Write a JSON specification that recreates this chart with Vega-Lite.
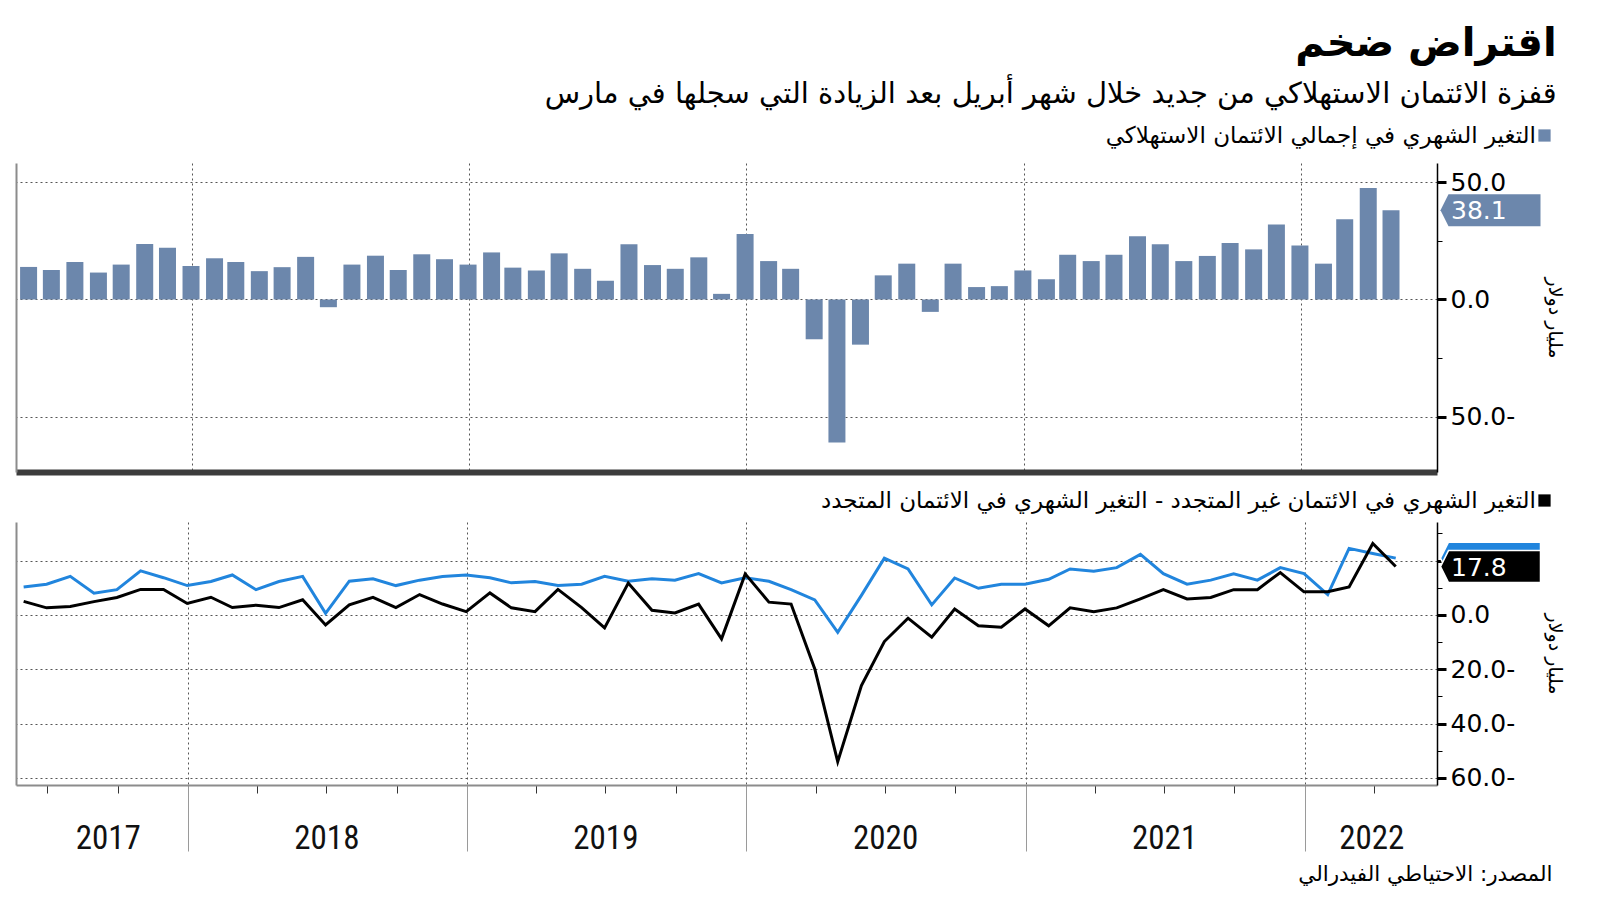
{
  "$schema": "https://vega.github.io/schema/vega-lite/v6.json",
  "padding": {"left": 16, "top": 24, "right": 24, "bottom": 0},
  "background": "#ffffff",
  "datasets": {
    "monthly": [
      {"date": "2017-05-31", "total": 13.9, "nonrev": 10.3, "rev": 5.0},
      {"date": "2017-06-30", "total": 12.6, "nonrev": 11.3, "rev": 2.6},
      {"date": "2017-07-31", "total": 16.0, "nonrev": 14.2, "rev": 3.1},
      {"date": "2017-08-31", "total": 11.5, "nonrev": 8.0, "rev": 4.9},
      {"date": "2017-09-30", "total": 14.9, "nonrev": 9.3, "rev": 6.4},
      {"date": "2017-10-31", "total": 23.7, "nonrev": 16.2, "rev": 9.4},
      {"date": "2017-11-30", "total": 22.1, "nonrev": 13.7, "rev": 9.4},
      {"date": "2017-12-31", "total": 14.3, "nonrev": 10.8, "rev": 4.2},
      {"date": "2018-01-31", "total": 17.6, "nonrev": 12.3, "rev": 6.5},
      {"date": "2018-02-28", "total": 16.0, "nonrev": 14.7, "rev": 2.7},
      {"date": "2018-03-31", "total": 12.1, "nonrev": 9.3, "rev": 3.6},
      {"date": "2018-04-30", "total": 13.8, "nonrev": 12.3, "rev": 2.7},
      {"date": "2018-05-31", "total": 18.2, "nonrev": 14.2, "rev": 5.6},
      {"date": "2018-06-30", "total": -3.3, "nonrev": 0.6, "rev": -3.7},
      {"date": "2018-07-31", "total": 14.9, "nonrev": 12.4, "rev": 3.7},
      {"date": "2018-08-31", "total": 18.7, "nonrev": 13.3, "rev": 6.5},
      {"date": "2018-09-30", "total": 12.6, "nonrev": 10.8, "rev": 2.7},
      {"date": "2018-10-31", "total": 19.3, "nonrev": 12.8, "rev": 7.5},
      {"date": "2018-11-30", "total": 17.2, "nonrev": 14.1, "rev": 4.0},
      {"date": "2018-12-31", "total": 14.9, "nonrev": 14.7, "rev": 1.2},
      {"date": "2019-01-31", "total": 20.1, "nonrev": 13.7, "rev": 8.1},
      {"date": "2019-02-28", "total": 13.6, "nonrev": 11.8, "rev": 2.6},
      {"date": "2019-03-31", "total": 12.4, "nonrev": 12.3, "rev": 1.2},
      {"date": "2019-04-30", "total": 19.7, "nonrev": 10.8, "rev": 9.4},
      {"date": "2019-05-31", "total": 13.1, "nonrev": 11.3, "rev": 2.7},
      {"date": "2019-06-30", "total": 8.0, "nonrev": 14.2, "rev": -4.8},
      {"date": "2019-07-31", "total": 23.6, "nonrev": 12.4, "rev": 11.7},
      {"date": "2019-08-31", "total": 14.7, "nonrev": 13.3, "rev": 1.7},
      {"date": "2019-09-30", "total": 13.1, "nonrev": 12.8, "rev": 0.7},
      {"date": "2019-10-31", "total": 18.0, "nonrev": 15.2, "rev": 4.0},
      {"date": "2019-11-30", "total": 2.4, "nonrev": 11.8, "rev": -8.8},
      {"date": "2019-12-31", "total": 28.0, "nonrev": 13.7, "rev": 15.1},
      {"date": "2020-01-31", "total": 16.4, "nonrev": 12.4, "rev": 4.7},
      {"date": "2020-02-29", "total": 13.1, "nonrev": 9.3, "rev": 4.0},
      {"date": "2020-03-31", "total": -17.0, "nonrev": 5.5, "rev": -19.9},
      {"date": "2020-04-30", "total": -61.1, "nonrev": -6.4, "rev": -54.0},
      {"date": "2020-05-31", "total": -19.3, "nonrev": 7.2, "rev": -26.0},
      {"date": "2020-06-30", "total": 10.3, "nonrev": 20.9, "rev": -9.8},
      {"date": "2020-07-31", "total": 15.3, "nonrev": 16.9, "rev": -1.2},
      {"date": "2020-08-31", "total": -5.3, "nonrev": 3.7, "rev": -8.2},
      {"date": "2020-09-30", "total": 15.3, "nonrev": 13.6, "rev": 2.2},
      {"date": "2020-10-31", "total": 5.3, "nonrev": 9.8, "rev": -4.0},
      {"date": "2020-11-30", "total": 5.7, "nonrev": 11.3, "rev": -4.5},
      {"date": "2020-12-31", "total": 12.4, "nonrev": 11.3, "rev": 2.2},
      {"date": "2021-01-31", "total": 8.6, "nonrev": 13.1, "rev": -4.0},
      {"date": "2021-02-28", "total": 19.1, "nonrev": 16.9, "rev": 2.6},
      {"date": "2021-03-31", "total": 16.4, "nonrev": 16.1, "rev": 1.2},
      {"date": "2021-04-30", "total": 19.1, "nonrev": 17.4, "rev": 2.6},
      {"date": "2021-05-31", "total": 27.0, "nonrev": 22.3, "rev": 5.9},
      {"date": "2021-06-30", "total": 23.6, "nonrev": 15.2, "rev": 9.3},
      {"date": "2021-07-31", "total": 16.4, "nonrev": 11.3, "rev": 5.9},
      {"date": "2021-08-31", "total": 18.6, "nonrev": 12.8, "rev": 6.4},
      {"date": "2021-09-30", "total": 24.1, "nonrev": 15.1, "rev": 9.3},
      {"date": "2021-10-31", "total": 21.4, "nonrev": 12.8, "rev": 9.3},
      {"date": "2021-11-30", "total": 32.0, "nonrev": 17.4, "rev": 15.6},
      {"date": "2021-12-31", "total": 23.1, "nonrev": 15.2, "rev": 8.5},
      {"date": "2022-01-31", "total": 15.3, "nonrev": 7.5, "rev": 8.5},
      {"date": "2022-02-28", "total": 34.3, "nonrev": 24.5, "rev": 10.3},
      {"date": "2022-03-31", "total": 47.6, "nonrev": 22.6, "rev": 26.3},
      {"date": "2022-04-30", "total": 38.1, "nonrev": 20.9, "rev": 17.8}
    ]
  },
  "title": {
    "text": "اقتراض ضخم",
    "subtitle": "قفزة الائتمان الاستهلاكي من جديد خلال شهر أبريل بعد الزيادة التي سجلها في مارس",
    "anchor": "end",
    "frame": "bounds",
    "font": "DejaVu Sans",
    "fontSize": 40,
    "fontWeight": "bold",
    "color": "#000000",
    "subtitleFont": "DejaVu Sans",
    "subtitleFontSize": 29,
    "subtitleColor": "#000000",
    "subtitlePadding": 16,
    "offset": 15,
    "dx": -7
  },
  "config": {
    "view": {"stroke": null},
    "font": "DejaVu Sans"
  },
  "spacing": 17,
  "resolve": {"scale": {"color": "independent"}, "legend": {"color": "independent"}},
  "vconcat": [
    {
      "width": 1421,
      "height": 309,
      "data": {"name": "monthly"},
      "resolve": {"axis": {"y": "independent"}},
      "layer": [
        {
          "mark": {"type": "bar", "size": 17},
          "encoding": {
            "x": {
              "field": "date", "type": "temporal",
              "scale": {"domain": [{"year": 2017, "month": 5, "date": 21}, {"year": 2022, "month": 6, "date": 23}]},
              "axis": {
                "orient": "bottom",
                "values": [{"year": 2018, "month": 1, "date": 1}, {"year": 2019, "month": 1, "date": 1}, {"year": 2020, "month": 1, "date": 1}, {"year": 2021, "month": 1, "date": 1}, {"year": 2022, "month": 1, "date": 1}],
                "grid": true, "gridDash": [2, 3], "gridColor": "#555555", "gridWidth": 1,
                "ticks": false, "labels": false,
                "domain": true, "domainColor": "#3c3c3c", "domainWidth": 6, "domainCap": "butt",
                "title": null
              }
            },
            "y": {
              "field": "total", "type": "quantitative",
              "scale": {"domain": [-73.7, 58.3], "nice": false, "zero": false},
              "axis": {"orient": "left", "labels": false, "ticks": false, "grid": false, "domainColor": "#8c8c8c", "domainWidth": 2, "title": null}
            },
            "color": {
              "datum": "التغير الشهري في إجمالي الائتمان الاستهلاكي",
              "scale": {"range": ["#6c87ac"]},
              "legend": {
                "orient": "none", "legendX": 1517, "legendY": -39,
                "title": null, "symbolType": "square", "symbolSize": 150, "symbolStrokeWidth": 0,
                "labelAlign": "right", "labelOffset": -20, "labelFontSize": 23, "labelFont": "DejaVu Sans",
                "labelColor": "#000000", "labelLimit": 0
              }
            }
          }
        },
        {
          "transform": [
            {"window": [{"op": "row_number", "as": "r"}], "sort": [{"field": "date", "order": "descending"}]},
            {"filter": "datum.r == 1"}
          ],
          "mark": {"type": "point", "shape": "M -1 0 L -0.84 -0.32 L 1 -0.32 L 1 0.32 L -0.84 0.32 Z", "size": 10000, "filled": true, "fill": "#6c87ac", "opacity": 1, "strokeWidth": 0, "xOffset": 53.5},
          "encoding": {
            "x": {"value": "width"},
            "y": {
              "field": "total", "type": "quantitative",
              "axis": {
                "orient": "right",
                "values": [50, 25, 0, -25, -50],
                "labelExpr": "datum.value % 50 != 0 ? '' : (datum.value < 0 ? format(-datum.value, '.1f') + '-' : format(datum.value, '.1f'))",
                "grid": true, "gridDash": [2, 3], "gridColor": "#555555", "gridWidth": 1,
                "gridOpacity": {"condition": {"test": "datum.value % 50 != 0", "value": 0}, "value": 1},
                "tickSize": {"condition": {"test": "datum.value % 50 != 0", "value": 5}, "value": 9},
                "tickWidth": {"condition": {"test": "datum.value % 50 != 0", "value": 1}, "value": 3},
                "tickColor": "#000000",
                "domainColor": "#000000", "domainWidth": 1.5,
                "labelFont": "DejaVu Sans", "labelFontSize": 25, "labelColor": "#000000", "labelPadding": 4,
                "title": "مليار دولار", "titleFont": "DejaVu Sans", "titleFontSize": 19, "titleFontWeight": "normal",
                "titleColor": "#000000", "titleAngle": 90, "titlePadding": 30
              }
            }
          }
        },
        {
          "transform": [
            {"window": [{"op": "row_number", "as": "r"}], "sort": [{"field": "date", "order": "descending"}]},
            {"filter": "datum.r == 1"}
          ],
          "mark": {"type": "text", "align": "left", "baseline": "middle", "font": "DejaVu Sans", "fontSize": 25, "color": "#ffffff", "xOffset": 14, "yOffset": 1},
          "encoding": {
            "x": {"value": "width"},
            "y": {"field": "total", "type": "quantitative", "axis": null},
            "text": {"field": "total", "type": "quantitative", "format": ".1f"}
          }
        }
      ]
    },
    {
      "width": 1421,
      "height": 263,
      "data": {"name": "monthly"},
      "resolve": {"axis": {"y": "independent"}},
      "layer": [
        {
          "mark": {"type": "line", "color": "#2185dd", "strokeWidth": 3},
          "encoding": {
            "x": {
              "field": "date", "type": "temporal",
              "scale": {"domain": [{"year": 2017, "month": 5, "date": 21}, {"year": 2022, "month": 6, "date": 23}]},
              "axis": {
                "orient": "bottom",
                "values": [
                  {"year": 2017, "month": 7, "date": 1}, {"year": 2017, "month": 9, "date": 18}, {"year": 2017, "month": 10, "date": 1},
                  {"year": 2018, "month": 1, "date": 1}, {"year": 2018, "month": 4, "date": 1}, {"year": 2018, "month": 7, "date": 1}, {"year": 2018, "month": 10, "date": 1},
                  {"year": 2019, "month": 1, "date": 1}, {"year": 2019, "month": 4, "date": 1}, {"year": 2019, "month": 7, "date": 1}, {"year": 2019, "month": 10, "date": 1},
                  {"year": 2020, "month": 1, "date": 1}, {"year": 2020, "month": 4, "date": 1}, {"year": 2020, "month": 7, "date": 1}, {"year": 2020, "month": 10, "date": 1},
                  {"year": 2021, "month": 1, "date": 1}, {"year": 2021, "month": 4, "date": 1}, {"year": 2021, "month": 7, "date": 1}, {"year": 2021, "month": 10, "date": 1},
                  {"year": 2022, "month": 1, "date": 1}, {"year": 2022, "month": 3, "date": 29}, {"year": 2022, "month": 4, "date": 1}
                ],
                "labelExpr": "date(datum.value) != 1 || (month(datum.value) == 6 && year(datum.value) != 2017) ? timeFormat(datum.value, '%Y') : ''",
                "labelOverlap": false, "labelFlush": false, "labelBound": false,
                "labelFont": "Liberation Sans Narrow, Roboto Condensed, DejaVu Sans Condensed, Liberation Sans",
                "labelFontSize": 33, "labelColor": "#111111", "labelBaseline": "middle", "labelPadding": 45,
                "grid": true, "gridDash": [2, 3], "gridColor": "#555555", "gridWidth": 1,
                "gridOpacity": {"condition": {"test": "month(datum.value) == 0 && date(datum.value) == 1", "value": 1}, "value": 0},
                "tickSize": {"condition": {"test": "month(datum.value) == 0 && date(datum.value) == 1", "value": 66}, "value": 8},
                "tickColor": {"condition": {"test": "month(datum.value) == 0 && date(datum.value) == 1", "value": "#9a9a9a"}, "value": "#333333"},
                "tickOpacity": {"condition": {"test": "date(datum.value) != 1", "value": 0}, "value": 1},
                "tickWidth": 1,
                "domain": true, "domainColor": "#8c8c8c", "domainWidth": 2,
                "title": "المصدر: الاحتياطي الفيدرالي",
                "titleFont": "DejaVu Sans", "titleFontSize": 21.5, "titleFontWeight": "normal", "titleColor": "#000000",
                "titleAlign": "right", "titleBaseline": "middle", "titleAnchor": null, "titleX": 1536, "titleY": 89
              }
            },
            "y": {
              "field": "nonrev", "type": "quantitative",
              "scale": {"domain": [-62.6, 34.2], "nice": false, "zero": false},
              "axis": {"orient": "left", "labels": false, "ticks": false, "grid": false, "domainColor": "#8c8c8c", "domainWidth": 2, "title": null}
            }
          }
        },
        {
          "mark": {"type": "line", "strokeWidth": 3},
          "encoding": {
            "x": {"field": "date", "type": "temporal"},
            "y": {
              "field": "rev", "type": "quantitative",
              "axis": {
                "orient": "right",
                "values": [30, 20, 10, 0, -10, -20, -30, -40, -50, -60],
                "labelExpr": "datum.value % 20 != 0 || datum.value == 20 ? '' : (datum.value < 0 ? format(-datum.value, '.1f') + '-' : format(datum.value, '.1f'))",
                "grid": true, "gridDash": [2, 3], "gridColor": "#555555", "gridWidth": 1,
                "gridOpacity": {"condition": {"test": "datum.value % 20 != 0", "value": 0}, "value": 1},
                "tickSize": {"condition": {"test": "datum.value % 20 != 0", "value": 5}, "value": 9},
                "tickWidth": {"condition": {"test": "datum.value % 20 != 0", "value": 1}, "value": 3},
                "tickColor": "#000000",
                "domainColor": "#000000", "domainWidth": 1.5,
                "labelFont": "DejaVu Sans", "labelFontSize": 25, "labelColor": "#000000", "labelPadding": 4,
                "title": "مليار دولار", "titleFont": "DejaVu Sans", "titleFontSize": 19, "titleFontWeight": "normal",
                "titleColor": "#000000", "titleAngle": 90, "titlePadding": 30
              }
            },
            "color": {
              "datum": "التغير الشهري في الائتمان غير المتجدد - التغير الشهري في الائتمان المتجدد",
              "scale": {"range": ["#000000"]},
              "legend": {
                "orient": "none", "legendX": 1517, "legendY": -33,
                "title": null, "symbolType": "square", "symbolSize": 150, "symbolStrokeWidth": 0,
                "symbolFillColor": "#000000",
                "labelAlign": "right", "labelOffset": -20, "labelFontSize": 23, "labelFont": "DejaVu Sans",
                "labelColor": "#000000", "labelLimit": 0
              }
            }
          }
        },
        {
          "transform": [
            {"window": [{"op": "row_number", "as": "r"}], "sort": [{"field": "date", "order": "descending"}]},
            {"filter": "datum.r == 1"}
          ],
          "mark": {"type": "point", "shape": "M -1 0 L -0.84 -0.32 L 1 -0.32 L 1 0.32 L -0.84 0.32 Z", "size": 10000, "filled": true, "fill": "#2185dd", "opacity": 1, "stroke": "#ffffff", "strokeWidth": 1.5, "xOffset": 53.5},
          "encoding": {
            "x": {"value": "width"},
            "y": {"field": "nonrev", "type": "quantitative", "axis": null}
          }
        },
        {
          "transform": [
            {"window": [{"op": "row_number", "as": "r"}], "sort": [{"field": "date", "order": "descending"}]},
            {"filter": "datum.r == 1"}
          ],
          "mark": {"type": "point", "shape": "M -1 0 L -0.84 -0.32 L 1 -0.32 L 1 0.32 L -0.84 0.32 Z", "size": 10000, "filled": true, "fill": "#000000", "opacity": 1, "stroke": "#ffffff", "strokeWidth": 1.5, "xOffset": 53.5},
          "encoding": {
            "x": {"value": "width"},
            "y": {"field": "rev", "type": "quantitative", "axis": null}
          }
        },
        {
          "transform": [
            {"window": [{"op": "row_number", "as": "r"}], "sort": [{"field": "date", "order": "descending"}]},
            {"filter": "datum.r == 1"}
          ],
          "mark": {"type": "text", "align": "left", "baseline": "middle", "font": "DejaVu Sans", "fontSize": 25, "color": "#ffffff", "xOffset": 14, "yOffset": 1},
          "encoding": {
            "x": {"value": "width"},
            "y": {"field": "rev", "type": "quantitative", "axis": null},
            "text": {"field": "rev", "type": "quantitative", "format": ".1f"}
          }
        }
      ]
    }
  ]
}
